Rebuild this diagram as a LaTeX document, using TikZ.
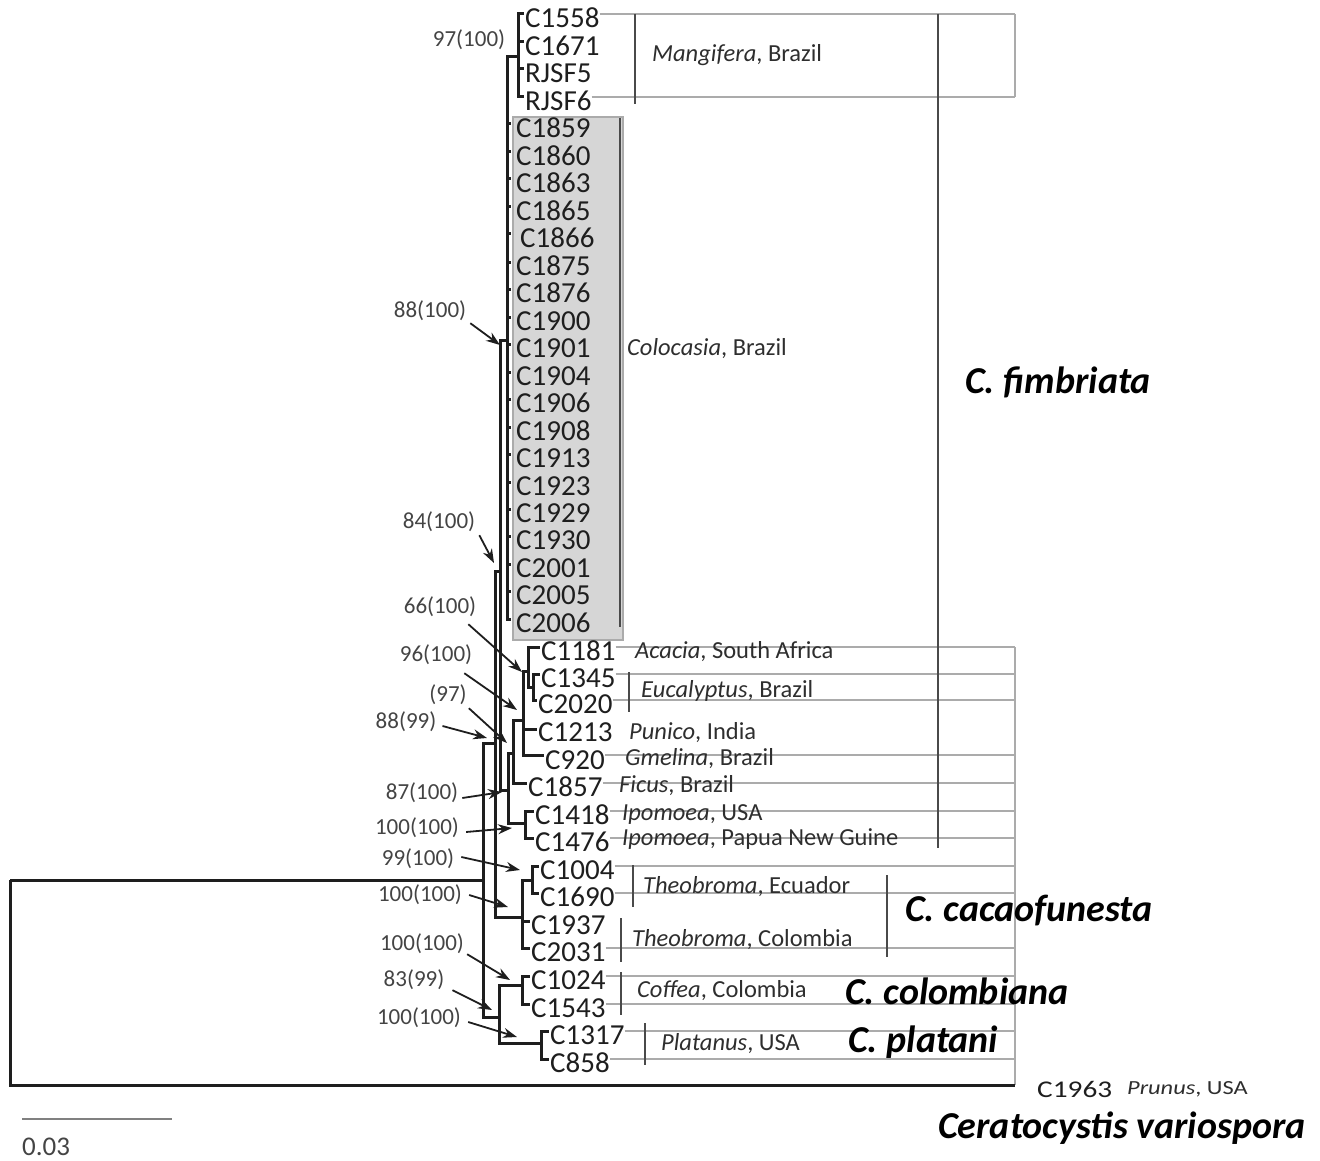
\documentclass[tikz,border=0pt]{standalone}
\usepackage{fontspec}
\setmainfont{Carlito}
\newfontfamily\widefont{Carlito}[FakeStretch=1.22]
\usetikzlibrary{arrows.meta}
\definecolor{treec}{HTML}{1E1E1E}
\definecolor{boxc}{HTML}{ABABAB}
\definecolor{barc}{HTML}{4A4A4A}
\definecolor{bsc}{HTML}{444444}
\definecolor{colfill}{HTML}{D6D6D6}
\definecolor{hostc}{HTML}{2E2E2E}
\newcommand\myleaf[6]{\coordinate (t#1) at (#2,#4); \node[leaf] (l#1) at (#3,#5) {#6};}
\begin{document}
\begin{tikzpicture}[x=1pt,y=-1pt,
  tree/.style={line width=3pt, color=treec},
  leaf/.style={anchor=west, inner sep=0pt, font=\fontsize{29}{30}\selectfont, text=treec},
  host/.style={anchor=west, inner sep=0pt, font=\fontsize{24.5}{26}\selectfont, text=hostc},
  bs/.style={inner sep=0pt, font=\fontsize{23}{24}\selectfont, text=bsc},
  spec/.style={anchor=west, inner sep=0pt, font=\fontsize{38}{40}\selectfont\bfseries\itshape, text=black},
  boxl/.style={line width=2pt, color=boxc},
  bar/.style={line width=2.2pt, color=barc},
  arr/.style={line width=1.8pt, color=treec, -{Stealth[length=14pt,width=10pt]}}
]
\useasboundingbox (0,0) rectangle (1320,1161);

% Colocasia grey box
\filldraw[fill=colfill, draw=boxc, line width=1.6pt] (513,117) rectangle (623,640);

% internal nodes
\coordinate (R) at (10,880);
\coordinate (A) at (483,880);
\coordinate (B) at (495,743);
\coordinate (F) at (500,571);
\coordinate (MC) at (507,340);
\coordinate (M) at (518,57);
\coordinate (O) at (508,790);
\coordinate (Q) at (513,753);
\coordinate (P) at (523,720);
\coordinate (AE) at (528,671);
\coordinate (EU) at (533,687);
\coordinate (IP) at (525,823);
\coordinate (CF) at (522,917);
\coordinate (TE) at (532,880);
\coordinate (CP) at (499,1017);
\coordinate (CO) at (522,985);
\coordinate (PL) at (541,1043);
\coordinate (OG) at (1015,1085);
\coordinate (RE) at (1015,0);

% leaves: name, tip x, label x, branch y, label y, text
\myleaf{1558}{524}{525}{14}{18}{C1558}
\myleaf{1671}{524}{525}{42}{46}{C1671}
\myleaf{RJ5}{524}{525}{69}{73}{RJSF5}
\myleaf{RJ6}{524}{525}{97}{101}{RJSF6}
\myleaf{1859}{511}{516}{124}{128}{C1859}
\myleaf{1860}{511}{516}{152}{156}{C1860}
\myleaf{1863}{511}{516}{179}{183}{C1863}
\myleaf{1865}{511}{516}{207}{211}{C1865}
\myleaf{1866}{511}{520}{234}{238}{C1866}
\myleaf{1875}{511}{516}{262}{266}{C1875}
\myleaf{1876}{511}{516}{289}{293}{C1876}
\myleaf{1900}{511}{516}{317}{321}{C1900}
\myleaf{1901}{511}{516}{344}{348}{C1901}
\myleaf{1904}{511}{516}{372}{376}{C1904}
\myleaf{1906}{511}{516}{399}{403}{C1906}
\myleaf{1908}{511}{516}{427}{431}{C1908}
\myleaf{1913}{511}{516}{454}{458}{C1913}
\myleaf{1923}{511}{516}{482}{486}{C1923}
\myleaf{1929}{511}{516}{509}{513}{C1929}
\myleaf{1930}{511}{516}{536}{540}{C1930}
\myleaf{2001}{511}{516}{564}{568}{C2001}
\myleaf{2005}{511}{516}{591}{595}{C2005}
\myleaf{2006}{511}{516}{619}{623}{C2006}
\myleaf{1181}{540}{541}{647}{651}{C1181}
\myleaf{1345}{540}{541}{674}{678}{C1345}
\myleaf{2020}{537}{538}{700}{704}{C2020}
\myleaf{1213}{537}{538}{729}{732}{C1213}
\myleaf{920}{544}{545}{755}{760}{C920}
\myleaf{1857}{527}{528}{783}{787}{C1857}
\myleaf{1418}{534}{535}{811}{815}{C1418}
\myleaf{1476}{534}{535}{838}{842}{C1476}
\myleaf{1004}{539}{540}{866}{870}{C1004}
\myleaf{1690}{539}{540}{893}{897}{C1690}
\myleaf{1937}{530}{531}{921}{925}{C1937}
\myleaf{2031}{530}{531}{948}{952}{C2031}
\myleaf{1024}{530}{531}{976}{980}{C1024}
\myleaf{1543}{530}{531}{1004}{1008}{C1543}
\myleaf{1317}{549}{550}{1031}{1035}{C1317}
\myleaf{858}{549}{550}{1059}{1063}{C858}

% grey guide lines to the right frame
\foreach \n in {1558,RJ6,1181,1345,2020,920,1857,1418,1476,1004,1690,2031,1024,1543,1317,858}
  \draw[boxl] (l\n.east |- t\n) -- (t\n -| RE);
\draw[boxl] (RE |- t1558) -- (RE |- tRJ6);
\draw[boxl] (RE |- t1181) -- (OG);

% tree
\draw[tree] (R) |- (A);
\draw[tree] (R) |- (OG);
\draw[tree] (A) |- (B);  \draw[tree] (A) |- (CP);
\draw[tree] (B) |- (F);  \draw[tree] (B) |- (CF);
\draw[tree] (F) |- (MC); \draw[tree] (F) |- (O);
\draw[tree] (MC) |- (M);
\foreach \n in {1859,1860,1863,1865,1866,1875,1876,1900,1901,1904,1906,1908,1913,1923,1929,1930,2001,2005,2006}
  \draw[tree] (MC) |- (t\n);
\foreach \n in {1558,1671,RJ5,RJ6} \draw[tree] (M) |- (t\n);
\draw[tree] (O) |- (Q);  \draw[tree] (O) |- (IP);
\draw[tree] (Q) |- (P);  \draw[tree] (Q) |- (t1857);
\draw[tree] (P) |- (AE); \draw[tree] (P) |- (t1213); \draw[tree] (P) |- (t920);
\draw[tree] (AE) |- (t1181); \draw[tree] (AE) |- (EU);
\draw[tree] (EU) |- (t1345); \draw[tree] (EU) |- (t2020);
\draw[tree] (IP) |- (t1418); \draw[tree] (IP) |- (t1476);
\draw[tree] (CF) |- (TE); \draw[tree] (CF) |- (t1937); \draw[tree] (CF) |- (t2031);
\draw[tree] (TE) |- (t1004); \draw[tree] (TE) |- (t1690);
\draw[tree] (CP) |- (CO); \draw[tree] (CP) |- (PL);
\draw[tree] (CO) |- (t1024); \draw[tree] (CO) |- (t1543);
\draw[tree] (PL) |- (t1317); \draw[tree] (PL) |- (t858);

% bars
\draw[bar] (635,14) -- (635,104);
\draw[bar] (620,118) -- (620,627);
\draw[bar] (629,672) -- (629,712);
\draw[bar] (938,14) -- (938,848);
\draw[bar] (633,865) -- (633,907);
\draw[bar] (621,918) -- (621,962);
\draw[bar] (887,875) -- (887,957);
\draw[bar] (621,972) -- (621,1015);
\draw[bar] (645,1023) -- (645,1065);

% host labels
\node[host] (hMan) at (652,55) {\textit{Mangifera}, Brazil};
\node[host] (hCol) at (627,349) {\textit{Colocasia}, Brazil};
\node[host] (hAca) at (635,652) {\textit{Acacia}, South Africa};
\node[host] (hEuc) at (641,691) {\textit{Eucalyptus}, Brazil};
\node[host] (hPun) at (629,733) {\textit{Punico}, India};
\node[host] (hGme) at (625,759) {\textit{Gmelina}, Brazil};
\node[host] (hFic) at (619,786) {\textit{Ficus}, Brazil};
\node[host] (hIp1) at (622,815) {\textit{Ipomoea}, USA};
\node[host] (hIp2) at (622,839) {\textit{Ipomoea}, Papua New Guine};
\node[host] (hThE) at (643,887) {\textit{Theobroma}, Ecuador};
\node[host] (hThC) at (632,940) {\textit{Theobroma}, Colombia};
\node[host] (hCof) at (637,991) {\textit{Coffea}, Colombia};
\node[host] (hPla) at (661,1044) {\textit{Platanus}, USA};

% species
\node[spec] (sFim) at (965,382) {C. fimbriata};
\node[spec] (sCac) at (905,910) {C. cacaofunesta};
\node[spec] (sCol) at (845,991) {C. colombiana};
\node[spec] (sPla) at (848,1042) {C. platani};
\node[spec] (sVar) at (938,1128) {Ceratocystis variospora};
\node[anchor=west, inner sep=0pt, font=\widefont\fontsize{24}{26}\selectfont, text=treec] (lOG) at (1037,1089) {C1963};
\node[anchor=west, inner sep=0pt, font=\widefont\fontsize{20}{22}\selectfont, text=hostc] (hPru) at (1127,1089) {\textit{Prunus}, USA};

% scale bar
\coordinate (sb1) at (22,1119);
\coordinate (sb2) at (172,1119);
\draw[line width=2pt, color=gray] (sb1) -- (sb2);
\node[anchor=west, inner sep=0pt, font=\fontsize{27}{28}\selectfont, text=bsc] (sbl) at (22,1147) {0.03};

% bootstrap labels
\node[bs] (b1) at (469,40) {97(100)};
\node[bs] (b2) at (430,311) {88(100)};
\node[bs] (b3) at (439,522) {84(100)};
\node[bs] (b4) at (440,607) {66(100)};
\node[bs] (b5) at (436,655) {96(100)};
\node[bs] (b6) at (448,695) {(97)};
\node[bs] (b7) at (406,722) {88(99)};
\node[bs] (b8) at (422,793) {87(100)};
\node[bs] (b9) at (417,828) {100(100)};
\node[bs] (b10) at (418,859) {99(100)};
\node[bs] (b11) at (420,895) {100(100)};
\node[bs] (b12) at (422,944) {100(100)};
\node[bs] (b13) at (414,980) {83(99)};
\node[bs] (b14) at (419,1018) {100(100)};

\coordinate (a2) at (500,345);
\coordinate (a3) at (494,563);
\coordinate (a4) at (522,672);
\coordinate (a5) at (517,710);
\coordinate (a6) at (507,743);
\coordinate (a7) at (487,738);
\coordinate (a8) at (502,792);
\coordinate (a9) at (512,828);
\coordinate (a10) at (520,870);
\coordinate (a11) at (508,907);
\coordinate (a12) at (510,980);
\coordinate (a13) at (492,1010);
\coordinate (a14) at (517,1037);

\draw[arr] ([shift={(4,2)}]b2.south east) -- (a2);
\draw[arr] ([shift={(4,3)}]b3.south east) -- (a3);
\draw[arr] ([shift={(-8,7)}]b4.south east) -- (a4);
\draw[arr] ([shift={(-8,8)}]b5.south east) -- (a5);
\draw[arr] ([shift={(2,3)}]b6.south east) -- (a6);
\draw[arr] ([shift={(6,4)}]b7.east) -- (a7);
\draw[arr] ([shift={(4,5)}]b8.east) -- (a8);
\draw[arr] ([shift={(7,4)}]b9.east) -- (a9);
\draw[arr] ([shift={(7,-2)}]b10.east) -- (a10);
\draw[arr] ([shift={(7,0)}]b11.east) -- (a11);
\draw[arr] ([shift={(3,0)}]b12.south east) -- (a12);
\draw[arr] ([shift={(8,0)}]b13.south east) -- (a13);
\draw[arr] ([shift={(7,4)}]b14.east) -- (a14);
\end{tikzpicture}
\end{document}
